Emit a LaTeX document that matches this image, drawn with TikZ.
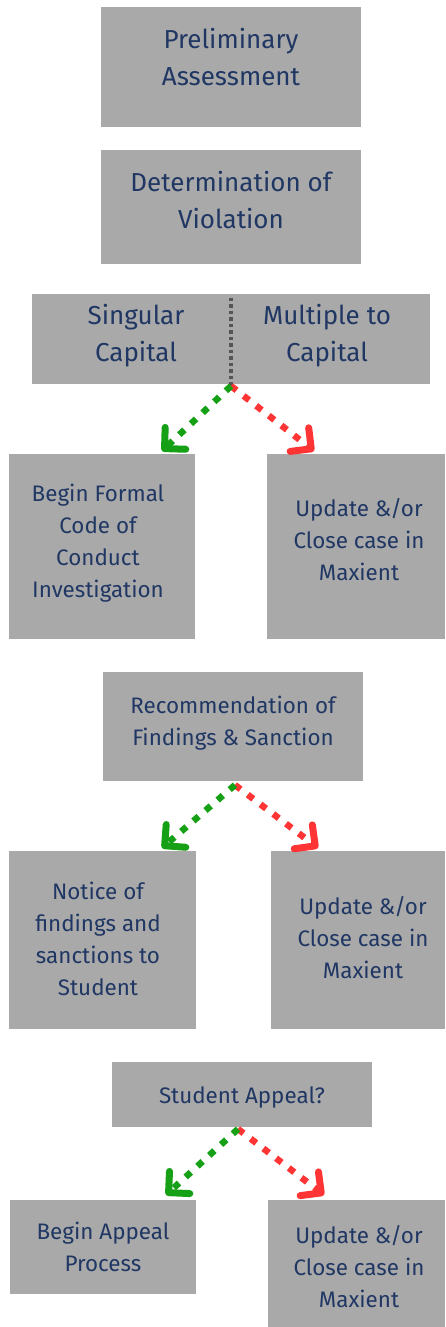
\documentclass[tikz,border=0pt]{standalone}
\usepackage{fontspec}
\setmainfont{Fira Sans}
\usetikzlibrary{arrows.meta}
\definecolor{boxgray}{RGB}{169,169,169}
\definecolor{textblue}{RGB}{32,55,100}
\definecolor{yesgreen}{RGB}{22,160,22}
\definecolor{nored}{RGB}{255,52,52}
\definecolor{sepgray}{RGB}{85,85,85}

\begin{document}
\begin{tikzpicture}[x=1pt, y=-1pt,
    stepbox/.style={fill=boxgray, inner sep=0pt},
    bigtext/.style={text=textblue, align=center, font=\fontsize{26}{37}\selectfont},
    smalltext/.style={text=textblue, align=center, font=\fontsize{22.4}{32}\selectfont},
    choice/.style={line width=6.5pt, dash pattern=on 7pt off 9pt,
        -{Straight Barb[length=15pt, width=30pt, line width=7pt, round]}},
    yesarrow/.style={choice, yesgreen},
    noarrow/.style={choice, nored}]
        \useasboundingbox (0,0) rectangle (445,1327);

        % top of the chart
        \node[stepbox, minimum width=260pt, minimum height=120pt,
            label={[bigtext, yshift=10pt]center:{Preliminary\\Assessment}}] (prelim) at (231,67) {};
        \node[stepbox, minimum width=260pt, minimum height=114pt,
            label={[bigtext, yshift=7pt]center:{Determination of\\Violation}}] (determine) at (231,207) {};

        % split box with its two cases
        \node[stepbox, minimum width=398pt, minimum height=90pt] (split) at (231,339) {};
        \node[bigtext] (singular) at (136,336) {Singular\\Capital};
        \node[bigtext] (multiple) at (327,336) {Multiple to\\Capital};
        \draw[sepgray, line width=3.5pt, dash pattern=on 3.5pt off 3pt] ([yshift=-4pt]split.north) -- ([yshift=-2pt]split.south);

        % first decision
        \node[stepbox, minimum width=186pt, minimum height=185pt,
            label={[smalltext, xshift=-4pt, yshift=3pt]center:{Begin Formal\\Code of\\Conduct\\Investigation}}] (investigate) at (102,546) {};
        \node[stepbox, minimum width=178pt, minimum height=185pt,
            label={[smalltext, xshift=3pt, yshift=6pt]center:{Update \&/or\\Close case in\\Maxient}}] (closeA) at (356,546) {};

        % second decision
        \node[stepbox, minimum width=260pt, minimum height=109pt,
            label={[smalltext, yshift=3pt]center:{Recommendation of\\Findings \& Sanction}}] (recommend) at (233,726) {};
        \node[stepbox, minimum width=187pt, minimum height=178pt,
            label={[smalltext, xshift=-4pt, yshift=1pt]center:{Notice of\\findings and\\sanctions to\\Student}}] (notice) at (102,940) {};
        \node[stepbox, minimum width=174pt, minimum height=178pt,
            label={[smalltext, xshift=5pt, yshift=2pt]center:{Update \&/or\\Close case in\\Maxient}}] (closeB) at (358,940) {};

        % third decision
        \node[stepbox, minimum width=260pt, minimum height=65pt,
            label={[smalltext, yshift=-3pt]center:{Student Appeal?}}] (appeal) at (242,1094) {};
        \node[stepbox, minimum width=186pt, minimum height=94pt,
            label={[smalltext]center:{Begin Appeal\\Process}}] (begin) at (103,1247) {};
        \node[stepbox, minimum width=177pt, minimum height=127pt,
            label={[smalltext, xshift=3pt, yshift=-4pt]center:{Update \&/or\\Close case in\\Maxient}}] (closeC) at (356,1263) {};

        % where each pair of arrows starts and ends
        \coordinate (fromA) at (231,386);
        \coordinate (fromB) at (235,785);
        \coordinate (fromC) at (238,1129);
        \coordinate (yesA) at (162,451);
        \coordinate (noA) at (314,451);
        \coordinate (yesB) at (162,848);
        \coordinate (noB) at (318,848);
        \coordinate (yesC) at (166,1195);
        \coordinate (noC) at (324,1195);

        % green for going on, red for closing the case
        \foreach \s in {A,B,C} {
            \draw[noarrow] (from\s) -- (no\s);
            \draw[yesarrow] (from\s) -- (yes\s);
        }
    \end{tikzpicture}
\end{document}
